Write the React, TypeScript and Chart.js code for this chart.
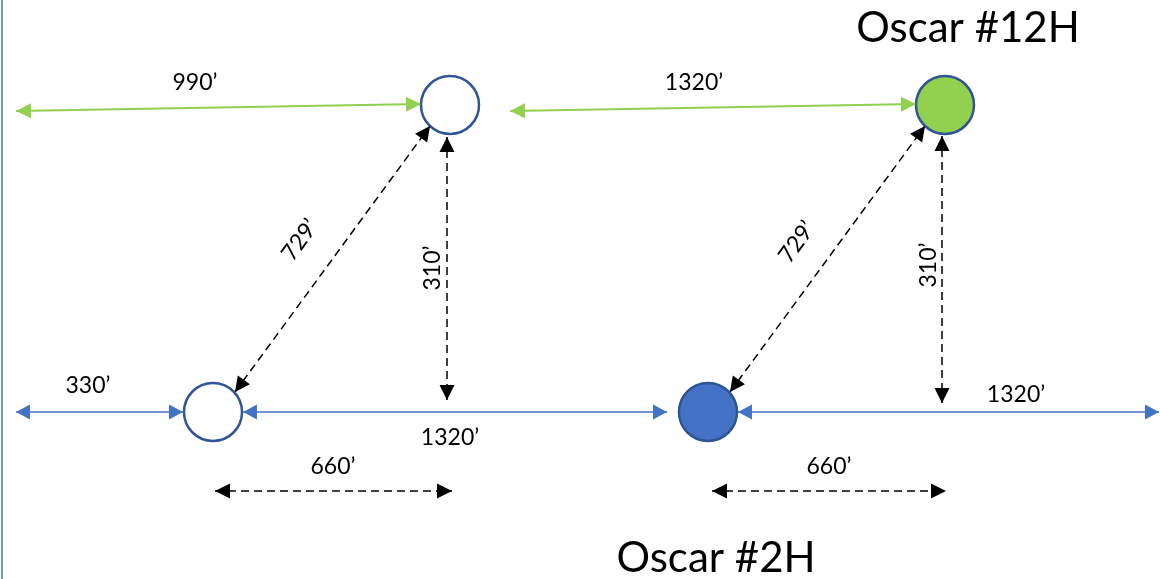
import { useEffect, useRef } from "react";
import { Chart, registerables } from "chart.js";

Chart.register(...registerables);

// Well sites, in diagram units (x to the right, y downward)
const wellNames = ["", "", "Oscar #2H", "Oscar #12H"];
const wellX = [213, 450, 708, 945];
const wellY = [412, 105, 412, 105];

// Dimension lines between wells / lease lines
const dimText = ["990’", "1320’", "330’", "1320’", "1320’", "729’", "310’", "729’", "310’", "660’", "660’"];
const dimKind = ["green", "green", "blue", "blue", "blue", "dash", "dash", "dash", "dash", "dash", "dash"];
const dimStartX = [16, 510, 16, 243, 738, 235, 447, 730, 942, 215, 712];
const dimStartY = [111, 111, 412, 412, 412, 392, 137, 392, 136, 491, 491];
const dimEndX = [421, 916, 183, 667, 1159, 430, 447, 925, 942, 452, 946];
const dimEndY = [104, 104, 412, 412, 412, 126, 400, 126, 403, 491, 491];

// Where each dimension's text sits
const dimTextX = [195, 694, 88, 450, 1016, 300, 433, 797, 929, 333, 829];
const dimTextY = [83, 83, 386, 438, 395, 240, 268, 242, 265, 467, 467];
const dimTextAngle = [0, 0, 0, 0, 0, -54, -90, -54, -90, 0, 0];

// Well name captions
const captionX = [716, 968];
const captionY = [558, 28];

const FONT = "Lato, 'Open Sans', sans-serif";

const colors: Record<string, string> = {
  green: "#92D050",
  blue: "#4472C4",
  dash: "#000000",
};

const wellFill = ["#FFFFFF", "#FFFFFF", "#4472C4", "#92D050"];

const arrowPlugin = {
  id: "arrows",
  afterDatasetsDraw(chart: Chart) {
    const ctx = chart.ctx;
    const xs = chart.scales.x;
    const ys = chart.scales.y;

    // arrow heads at both ends of each dimension line
    dimKind.forEach((kind, i) => {
      const meta = chart.getDatasetMeta(i + 2);
      const pts = meta.data;
      if (pts.length < 2) return;
      const ends = [
        [pts[0], pts[1]],
        [pts[1], pts[0]],
      ];
      ends.forEach(([tip, from]) => {
        const ang = Math.atan2(tip.y - from.y, tip.x - from.x);
        const len = kind === "blue" ? 14 : 15;
        const half = 7.5;
        ctx.save();
        ctx.translate(tip.x, tip.y);
        ctx.rotate(ang);
        ctx.beginPath();
        ctx.moveTo(0, 0);
        ctx.lineTo(-len, -half);
        ctx.lineTo(-len, half);
        ctx.closePath();
        ctx.fillStyle = colors[kind];
        ctx.fill();
        ctx.restore();
      });
    });

    // dimension texts
    ctx.save();
    ctx.fillStyle = "#000";
    ctx.textAlign = "center";
    ctx.textBaseline = "middle";
    ctx.font = `23px ${FONT}`;
    dimText.forEach((t, i) => {
      ctx.save();
      ctx.translate(xs.getPixelForValue(dimTextX[i]), ys.getPixelForValue(dimTextY[i]));
      ctx.rotate((dimTextAngle[i] * Math.PI) / 180);
      ctx.fillText(t, 0, 0);
      ctx.restore();
    });

    // captions
    ctx.font = `42px ${FONT}`;
    [wellNames[2], wellNames[3]].forEach((t, i) => {
      ctx.fillText(t, xs.getPixelForValue(captionX[i]), ys.getPixelForValue(captionY[i]));
    });
    ctx.restore();
  },
};

export default function App() {
  const canvasRef = useRef<HTMLCanvasElement>(null);
  const chartRef = useRef<Chart | null>(null);

  useEffect(() => {
    document.body.style.margin = "0";
    if (!canvasRef.current) return;
    if (chartRef.current) chartRef.current.destroy();

    const wells = {
      type: "scatter" as const,
      data: wellX.map((x, i) => ({ x, y: wellY[i] })),
      pointRadius: 29,
      pointHoverRadius: 29,
      pointBackgroundColor: wellFill,
      pointBorderColor: "#2F5597",
      pointBorderWidth: 2.5,
      showLine: false,
      clip: false as const,
    };

    const leaseLine = {
      type: "line" as const,
      data: [
        { x: 2, y: 0 },
        { x: 2, y: 579 },
      ],
      borderColor: "#4472C4",
      borderWidth: 1.5,
      pointRadius: 0,
      clip: false as const,
    };

    const dims = dimKind.map((kind, i) => ({
      type: "line" as const,
      data: [
        { x: dimStartX[i], y: dimStartY[i] },
        { x: dimEndX[i], y: dimEndY[i] },
      ],
      borderColor: colors[kind],
      borderWidth: kind === "green" ? 2 : 1.5,
      borderDash: kind === "dash" ? [8, 5] : [],
      pointRadius: 0,
      clip: false as const,
    }));

    chartRef.current = new Chart(canvasRef.current, {
      type: "scatter",
      data: { datasets: [wells, leaseLine, ...dims] as any },
      options: {
        animation: false,
        responsive: false,
        events: [],
        layout: { padding: 0, autoPadding: false },
        scales: {
          x: { type: "linear", min: 0, max: 1160, display: false },
          y: { type: "linear", min: 0, max: 579, reverse: true, display: false },
        },
        plugins: {
          legend: { display: false },
          tooltip: { enabled: false },
        },
      },
      plugins: [arrowPlugin],
    });

    return () => {
      if (chartRef.current) {
        chartRef.current.destroy();
        chartRef.current = null;
      }
    };
  }, []);

  return (
    <div style={{ width: 1160, height: 579, background: "#fff" }}>
      <canvas ref={canvasRef} width={1160} height={579} />
    </div>
  );
}
